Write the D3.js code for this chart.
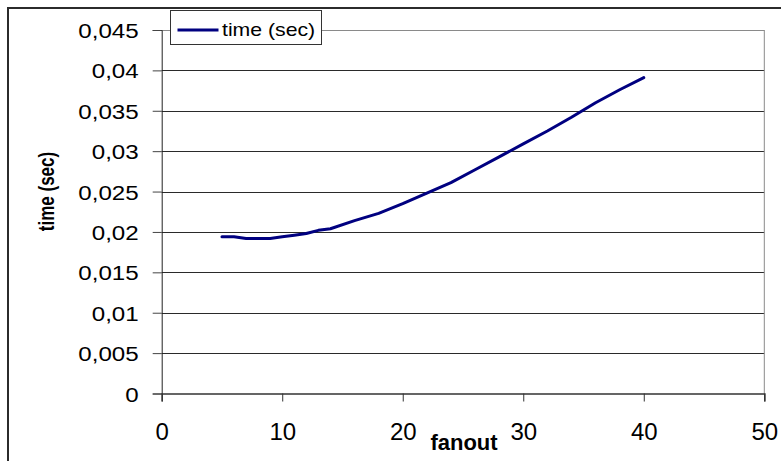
<html>
  <head>
    <script src="https://d3js.org/d3.v7.min.js"></script>
    <style>
      body { margin: 0; background: #fff; }
      text { font-family: "Liberation Sans", Arial, sans-serif; fill: #000; }
    </style>
  </head>
  <body>
    <svg id="chart" width="781" height="461"></svg>
    <script>
      // fanout vs time
      const fanout = [5, 6, 7, 8, 9, 10, 11, 12, 13, 14, 16, 18, 20, 22, 24, 26, 28, 30, 32, 34, 36, 38, 40];
      const timeSec = [0.0194, 0.0194, 0.0192, 0.0192, 0.0192, 0.0194, 0.0196, 0.0198, 0.0202, 0.0204,
        0.0214, 0.0223, 0.0235, 0.0248, 0.0261, 0.0277, 0.0293, 0.0309, 0.0325, 0.0342, 0.036, 0.0376, 0.0391];
      const xTicks = [0, 10, 20, 30, 40, 50];
      const yTicks = [0, 0.005, 0.01, 0.015, 0.02, 0.025, 0.03, 0.035, 0.04, 0.045];
      const seriesName = "time (sec)";

      const svg = d3.select("#chart");
      const plotL = 161.7, plotR = 764.3, plotT = 30, plotB = 393.5;

      const x = d3.scaleLinear().domain([0, 50]).range([plotL, plotR]);
      const y = d3.scaleLinear().domain([0, 0.045]).range([plotB, plotT]);
      const fmt = d3.formatLocale({ decimal: ",", thousands: ".", grouping: [3], currency: ["", ""] }).format(".3~f");

      // outer chart frame (runs off right and bottom)
      svg.append("rect")
        .attr("x", 8).attr("y", 8).attr("width", 900).attr("height", 600)
        .attr("fill", "none").attr("stroke", "#2b2b2b").attr("stroke-width", 2);

      // gridlines
      svg.append("g")
        .selectAll("line")
        .data(yTicks.slice(1))
        .enter()
        .append("line")
        .attr("x1", plotL).attr("x2", plotR)
        .attr("y1", (d) => Math.round(y(d)) + 0.5).attr("y2", (d) => Math.round(y(d)) + 0.5)
        .attr("stroke", (d) => (d === 0.045 ? "#8a8a8a" : "#2a2a2a"))
        .attr("stroke-width", 1);

      // right border of the plot area
      svg.append("line")
        .attr("x1", plotR).attr("x2", plotR).attr("y1", plotT).attr("y2", plotB)
        .attr("stroke", "#8a8a8a");

      // y axis
      const gy = svg.append("g")
        .attr("transform", `translate(${plotL},0)`)
        .call(d3.axisLeft(y).tickValues(yTicks).tickFormat(fmt).tickSize(9).tickPadding(12));
      gy.select(".domain").attr("stroke", "#222");
      gy.selectAll(".tick line").attr("stroke", "#444");
      gy.selectAll(".tick text")
        .attr("font-size", 21)
        .attr("x", -20).attr("dy", "0.36em")
        .attr("transform", "scale(1.15,1)");

      // x axis
      const gx = svg.append("g")
        .attr("transform", `translate(0,${plotB})`)
        .call(d3.axisBottom(x).tickValues(xTicks).tickFormat(d3.format("d")).tickSize(8).tickPadding(26));
      gx.select(".domain").attr("stroke", "#333").attr("stroke-width", 1.5);
      gx.selectAll(".tick line").attr("stroke", "#333");
      gx.selectAll(".tick text").attr("font-size", 24).attr("dy", 0).attr("y", 46.5);

      // data line
      const pts = fanout.map((f, i) => [f, timeSec[i]]);
      svg.append("path")
        .datum(pts)
        .attr("fill", "none")
        .attr("stroke", "#000080")
        .attr("stroke-width", 3)
        .attr("stroke-linejoin", "round")
        .attr("stroke-linecap", "round")
        .attr("d", d3.line().x((d) => x(d[0])).y((d) => y(d[1])));

      // axis titles
      svg.append("text")
        .attr("x", 464).attr("y", 450)
        .attr("text-anchor", "middle")
        .attr("font-size", 22).attr("font-weight", "bold")
        .text("fanout");
      svg.append("text")
        .attr("transform", "translate(54,191.5) scale(1.25,1) rotate(-90)")
        .attr("text-anchor", "middle")
        .attr("font-size", 17).attr("font-weight", "bold")
        .text("time (sec)");

      // legend
      const lg = svg.append("g");
      lg.append("rect")
        .attr("x", 170.5).attr("y", 10.5).attr("width", 151).attr("height", 34)
        .attr("fill", "#fff").attr("stroke", "#333");
      lg.append("line")
        .attr("x1", 177.5).attr("x2", 218.5).attr("y1", 30).attr("y2", 30)
        .attr("stroke", "#000080").attr("stroke-width", 3);
      lg.append("text")
        .attr("transform", "translate(222,35.5) scale(1.18,1)")
        .attr("font-size", 18)
        .text(seriesName);
    </script>
  </body>
</html>
